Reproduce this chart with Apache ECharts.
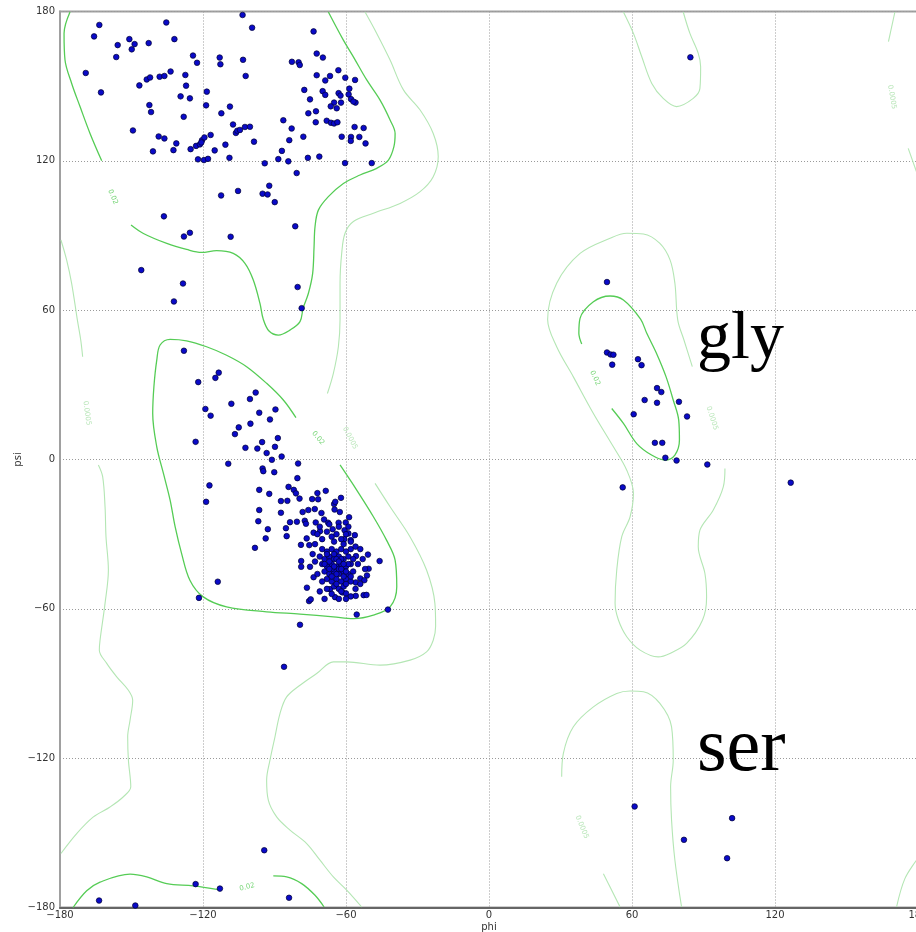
<!DOCTYPE html>
<html>
<head>
<meta charset="utf-8">
<title>Ramachandran plot</title>
<script src="https://cdn.jsdelivr.net/npm/echarts@6/dist/echarts.min.js"></script>
<style>
  html, body { margin: 0; padding: 0; background: #ffffff; }
  #chart { width: 916px; height: 932px; }
</style>
</head>
<body>
<div id="chart"></div>
<script>
// Axis ticks (degrees)
const phiTicks = [-180, -120, -60, 0, 60, 120, 180];
const psiTicks = [-180, -120, -60, 0, 60, 120, 180];

// Residue backbone angles [phi, psi] — beta-sheet region
const betaPoints = [
  [-163.5,174.6],[-165.7,170.0],[-169.2,155.3],[-162.8,147.5],[-155.8,166.5],[-156.4,161.7],
  [-150.9,168.9],[-149.9,164.8],[-148.7,166.9],[-142.8,167.3],[-135.4,175.6],[-132.0,168.9],
  [-146.7,150.3],[-143.6,152.7],[-142.2,153.5],[-138.2,153.8],[-136.2,154.1],[-133.6,155.9],
  [-127.4,154.5],[-127.1,150.2],[-129.4,145.9],[-125.5,145.1],[-124.2,162.3],[-122.5,159.4],
  [-142.5,142.4],[-141.8,139.6],[-128.1,137.7],[-149.4,132.2],[-138.6,129.8],[-136.2,129.0],
  [-131.2,127.0],[-141.0,123.8],[-132.4,124.3],[-125.2,124.7],[-122.9,126.0],[-121.3,126.6],
  [-120.4,128.3],[-119.4,129.4],[-120.7,127.4],[-122.1,120.6],[-119.6,120.3],[-117.9,120.8],
  [-116.8,130.4],[-118.7,142.3],[-118.4,147.8],[-115.1,124.2],[-113.0,161.5],[-112.7,158.8],
  [-112.3,139.1],[-110.6,126.5],[-108.7,141.8],[-108.9,121.2],[-107.4,134.6],[-106.2,131.2],
  [-105.6,132.1],[-104.5,132.4],[-102.4,133.6],[-100.3,133.7],[-103.4,178.6],[-99.4,173.5],
  [-103.2,160.6],[-102.1,154.1],[-98.6,127.7],[-94.1,119.0],[-92.2,110.0],[-95.0,106.8],
  [-92.9,106.5],[-89.9,103.4],[-112.4,106.1],[-105.3,107.9],[-136.4,97.7],[-128.0,89.6],
  [-125.5,91.1],[-108.4,89.5],[-145.9,76.1],[-128.4,70.7],[-132.2,63.5],[-81.3,93.7],
  [-80.3,69.3],[-78.6,60.8],[-86.3,136.3],[-82.8,133.0],[-83.8,128.3],[-86.9,124.0],
  [-88.4,120.7],[-84.2,119.8],[-80.7,115.1],[-82.7,159.8],[-79.9,159.6],[-79.4,158.5],
  [-73.6,172.0],[-72.3,163.1],[-69.7,161.5],[-77.5,148.5],[-75.1,144.7],[-72.3,154.4],
  [-68.7,152.3],[-66.7,154.1],[-63.2,156.4],[-60.3,153.4],[-56.2,152.5],[-58.6,149.0],
  [-58.9,146.7],[-57.9,144.8],[-56.0,143.4],[-56.9,143.8],[-69.8,148.0],[-68.7,146.5],
  [-63.1,147.2],[-62.3,146.2],[-65.0,143.4],[-66.4,141.9],[-63.9,141.1],[-62.1,143.4],
  [-75.8,139.1],[-72.6,139.9],[-72.7,135.5],[-68.1,136.1],[-66.3,135.3],[-65.0,135.0],
  [-63.6,135.5],[-77.9,129.7],[-76.0,121.2],[-71.2,121.7],[-61.8,129.7],[-57.9,129.6],
  [-58.0,128.0],[-54.4,129.6],[-56.4,133.6],[-52.6,133.2],[-51.8,127.0],[-60.4,119.1],
  [-49.2,119.1]
];

// Right-handed helix region, outer scatter
const alphaPoints = [
  [-128.0,43.7],[-122.0,31.1],[-114.8,32.8],[-113.4,34.9],[-119.0,20.3],[-116.8,17.6],
  [-123.1,7.1],[-108.1,22.4],[-100.3,24.3],[-97.9,26.9],[-96.4,18.8],[-89.6,20.1],
  [-91.9,16.1],[-100.1,14.4],[-105.0,12.9],[-106.6,10.2],[-102.2,4.7],[-97.2,4.4],
  [-95.2,7.0],[-88.6,8.6],[-89.8,5.1],[-93.3,2.6],[-91.1,-0.1],[-87.0,1.2],
  [-109.4,-1.7],[-80.1,-1.6],[-95.0,-3.6],[-94.7,-4.7],[-90.1,-5.1],[-80.4,-7.5],
  [-117.3,-10.4],[-118.7,-17.0],[-96.4,-12.2],[-92.2,-13.8],[-84.1,-11.0],[-81.9,-12.2],
  [-81.0,-13.6],[-79.5,-15.7],[-87.3,-16.7],[-84.6,-16.6],[-96.4,-20.3],[-96.8,-24.8],
  [-92.8,-28.0],[-93.7,-31.7],[-98.2,-35.5],[-87.3,-21.4],[-83.5,-25.2],[-85.2,-27.6],
  [-84.9,-30.8],[-80.6,-25.0],[-78.2,-21.1],[-75.8,-20.3],[-73.1,-19.9],[-74.2,-15.9],
  [-71.7,-16.0],[-72.0,-13.5],[-68.5,-12.6],[-70.3,-21.5],[-77.3,-24.6],[-76.8,-25.8],
  [-72.7,-25.3],[-69.2,-24.1],[-65.0,-17.9],[-64.5,-17.0],[-62.1,-15.4],[-64.8,-20.1],
  [-62.6,-21.1],[-58.7,-23.2],[-60.1,-25.3],[-63.1,-25.4],[-67.5,-25.4],[-73.6,-29.4],
  [-70.9,-28.8],[-65.6,-28.0],[-60.6,-28.4],[-59.0,-29.7],[-56.3,-30.4],[-58.0,-32.4],
  [-60.7,-32.0],[-76.5,-31.7],[-75.4,-34.4],[-78.9,-34.3],[-78.8,-40.8],[-78.8,-43.1],
  [-75.1,-43.1],[-73.6,-47.3],[-76.4,-51.5],[-75.5,-56.9],[-74.8,-56.2],[-66.7,-52.1],
  [-64.6,-55.3],[-61.5,-53.4],[-60.0,-53.8],[-55.9,-54.8],[-52.6,-54.5],[-51.4,-54.4],
  [-55.5,-62.3],[-42.4,-60.3],[-79.3,-66.4],[-113.8,-49.1],[-121.7,-55.6],[-50.8,-38.2],
  [-45.9,-40.8],[-50.5,-43.9],[-51.2,-46.6],[-55.8,-38.8],[-54.0,-47.8],[-55.9,-49.4],
  [-52.3,-48.5],[-86.0,-83.3]
];

// Right-handed helix region, dense core
const alphaCore = [
  [-70,-36],[-68,-37],[-66,-36],[-64,-37],[-62,-36],[-60,-37],[-58,-36],
  [-71,-39],[-69,-40],[-67,-39],[-65,-40],[-63,-39],[-61,-40],[-59,-39],[-57,-40],
  [-70,-42],[-68,-43],[-66,-42],[-64,-43],[-62,-42],[-60,-43],[-58,-42],
  [-69,-45],[-67,-46],[-65,-45],[-63,-46],[-61,-45],[-59,-46],[-57,-45],
  [-68,-48],[-66,-49],[-64,-48],[-62,-49],[-60,-48],[-58,-49],
  [-65,-51],[-63,-52],[-61,-51],
  [-67,-41],[-65,-38],[-63,-44],[-61,-47],[-66,-44],[-62,-40],[-64,-46],[-60,-45],
  [-68,-38],[-59,-42],[-66,-47],[-64,-40],[-62,-44],[-65,-43],[-63,-41],[-61,-42],
  [-67,-44],[-69,-42],[-58,-47],[-60,-50],[-62,-53],[-64,-50],
  [-72,-30],[-70,-32],[-68,-29],[-66,-31],[-64,-30],[-62,-32],[-60,-30],[-58,-33],
  [-73,-34],[-71,-27],[-67,-26],[-65,-33],[-63,-27],[-61,-34],[-59,-27],[-56,-35],
  [-54,-36],[-53,-40],[-55,-42],[-52,-44],[-54,-50],[-56,-52],[-58,-55],[-66,-54],
  [-68,-52],[-70,-49],[-72,-46],[-73,-41],[-74,-38],[-71,-53],[-69,-56],[-63,-56],
  [-60,-56]
];

// Left-handed region and remaining residues
const leftPoints = [
  [84.5,161.6],[49.5,71.3],[49.5,43.0],[51.0,42.2],[52.2,42.1],[51.7,38.1],[62.5,40.3],
  [64.0,37.9],[70.5,28.7],[72.3,27.1],[65.3,23.9],[70.5,22.8],[79.7,23.2],[83.1,17.3],
  [60.7,18.2],[69.6,6.7],[72.7,6.7],[74.0,0.7],[78.7,-0.4],[91.6,-2.0],[56.1,-11.2],
  [126.6,-9.3],[61.1,-139.4],[102.0,-144.1],[81.8,-152.8],[99.9,-160.2]
];
const edgePoints = [
  [-94.3,-157.0],[-123.1,-170.6],[-112.9,-172.4],[-83.9,-176.1],[-163.6,-177.2],[-148.4,-179.2]
];

// Density contour, level 0.02
const c02BetaLeft = [[-175.8,179.8],[-178.3,171.2],[-177.9,160.5],[-175.1,151.1],[-171.6,141.8],[-167.4,131.0],[-162.5,120.0]];
const c02BetaMain = [
  [-150.2,94.2],[-145.0,90.8],[-135.2,86.8],[-126.9,84.4],[-120.6,83.2],[-114.3,83.9],[-107.3,82.8],
  [-102.4,78.8],[-98.9,72.1],[-96.1,62.7],[-94.7,56.3],[-92.3,51.6],[-88.4,50.0],[-83.5,52.0],
  [-79.3,55.4],[-78.0,60.8],[-75.8,66.7],[-74.0,74.7],[-73.4,85.5],[-73.0,93.5],[-71.6,100.2],
  [-67.4,105.6],[-61.1,110.9],[-54.1,114.3],[-47.1,117.0],[-42.2,120.3],[-39.9,125.7],[-39.4,131.0],
  [-41.5,136.4],[-45.7,144.4],[-51.3,152.5],[-56.9,161.8],[-61.1,168.5],[-67.4,179.8]
];
const c02BetaBottomA = [[-174.5,-180],[-168.8,-173.3],[-163.2,-169.8],[-150.6,-166.6],[-143.6,-167.7],[-135.2,-170.4],[-124.1,-171.3],[-113.6,-172.8]];
const c02BetaBottomB = [[-90.5,-167.3],[-84.9,-167.7],[-78.6,-170.4],[-73.0,-175.1],[-69.2,-179.8]];
const c02Alpha = [
  [-62.5,-2.2],[-55.5,-12.3],[-48.5,-23.0],[-43.0,-32.4],[-39.4,-40.4],[-38.7,-51.1],[-41.5,-59.2],
  [-48.5,-62.5],[-56.9,-63.9],[-65.3,-63.2],[-79.3,-62.1],[-93.3,-61.2],[-110.1,-59.2],[-119.9,-55.2],
  [-125.5,-48.5],[-129.0,-37.7],[-131.7,-27.0],[-133.8,-16.3],[-136.6,-5.6],[-139.4,5.1],[-141.1,18.5],
  [-140.6,29.2],[-139.4,39.9],[-138.0,46.0],[-133.8,48.3],[-126.9,47.7],[-118.5,45.3],[-110.1,41.9],
  [-101.7,37.3],[-93.3,30.6],[-86.3,23.9],[-81.0,16.8]
];
const c02Gly = [
  [51.5,20.5],[56.4,14.5],[62.0,6.4],[68.2,1.8],[73.8,-0.2],[78.0,1.8],[79.9,7.8],[79.6,15.8],
  [77.3,23.9],[74.3,33.2],[70.3,42.6],[66.2,50.7],[63.6,56.4],[56.4,64.1],[50.8,65.7],[43.8,63.4],
  [38.2,56.7],[37.7,50.7],[38.9,46.4]
];

// Density contour, level 0.0005
const c0005OuterTop = [
  [-52.0,179.8],[-47.1,171.2],[-41.5,160.5],[-35.9,148.5],[-28.9,140.4],[-23.4,131.0],[-21.3,121.7],
  [-23.4,113.6],[-28.9,107.6],[-37.3,102.9],[-48.5,98.9],[-56.9,95.6],[-60.4,90.9],[-61.8,82.9],
  [-62.5,70.8],[-62.5,56.1],[-63.2,45.3],[-65.3,34.6],[-67.8,26.5]
];
const c0005OuterLow = [
  [-47.8,-9.6],[-41.5,-19.0],[-33.1,-31.1],[-26.2,-44.4],[-22.7,-57.8],[-22.4,-67.0],[-23.4,-72.6],
  [-26.2,-77.3],[-33.1,-80.6],[-45.7,-82.6],[-59.7,-81.3],[-65.3,-81.3],[-72.3,-86.0],[-79.3,-90.7],
  [-84.9,-95.4],[-87.7,-102.1],[-89.8,-111.4],[-91.9,-120.8],[-93.3,-128.8],[-92.6,-136.9],[-89.1,-143.6],
  [-83.5,-148.9],[-76.5,-154.3],[-70.9,-161.0],[-65.3,-167.7],[-59.7,-173.0],[-53.4,-179.8]
];
const c0005LeftTop = [[-179.6,88.2],[-177.2,80.1],[-175.1,70.7],[-172.7,56.0],[-171.3,48.0],[-170.5,41.3]];
const c0005LeftLow = [
  [-163.9,-2.2],[-162.1,-6.9],[-161.1,-19.0],[-160.7,-31.0],[-159.7,-44.4],[-161.1,-57.8],[-163.2,-72.6],
  [-163.5,-76.6],[-160.4,-81.9],[-156.2,-87.3],[-151.3,-92.7],[-149.5,-96.7],[-150.6,-104.7],[-151.6,-111.4],
  [-151.3,-120.8],[-150.3,-131.5],[-153.4,-135.5],[-159.0,-139.6],[-166.0,-143.6],[-173.0,-150.3],[-179.6,-158.3]
];
const c0005RightA = [[170.3,179.8],[167.6,167.9]];
const c0005RightB = [[175.9,125.0],[179.6,115.0]];
const c0005RightC = [[171.0,-179.8],[174.5,-168.4],[179.6,-160.7]];
const c0005Gly = [
  [99.0,-3.6],[98.3,-11.0],[94.1,-20.3],[88.5,-28.4],[87.8,-35.1],[90.6,-45.8],[91.3,-55.2],[89.6,-64.5],
  [82.9,-73.9],[75.9,-77.9],[71.0,-79.3],[63.4,-76.6],[57.8,-71.2],[54.3,-64.5],[52.9,-57.8],[53.6,-44.4],
  [55.7,-31.0],[59.2,-23.0],[60.6,-13.6],[57.8,-4.3],[52.2,5.1],[43.8,18.5],[35.4,33.2],[28.4,45.3],
  [24.6,56.3],[28.4,70.8],[38.2,82.8],[50.8,88.9],[57.8,90.9],[64.8,90.6],[71.7,86.8],[76.0,80.1],
  [78.0,70.8],[79.2,56.0],[81.8,48.0],[85.3,37.3]
];
const c0005SerTop = [
  [56.4,179.8],[60.6,171.2],[64.1,161.8],[68.3,151.1],[73.1,145.1],[78.7,141.8],[85.7,145.1],
  [88.5,149.1],[88.8,157.8],[87.8,163.2],[84.3,171.2],[81.5,179.8]
];
const c0005SerLow = [
  [30.5,-127.5],[31.2,-118.1],[35.4,-107.4],[43.8,-99.4],[53.6,-94.0],[59.2,-93.0],[64.8,-93.3],
  [71.7,-98.0],[76.6,-107.4],[77.3,-120.8],[76.2,-131.5],[76.6,-144.9],[78.0,-161.0],[80.8,-179.8]
];
const c0005SerTail = [[48.0,-166.4],[55.0,-179.8]];

// Contour level labels [phi, psi, text, angle]
const contourLabels = [
  [-157.8,105.5,'0.02',-66],[-71.7,8.6,'0.02',-50],[44.5,32.7,'0.02',-65],[-101.5,-171.8,'0.02',14],
  [-168.7,18.6,'0.0005',-82],[-58.3,8.6,'0.0005',-62],[93.6,16.6,'0.0005',-72],
  [39.0,-147.7,'0.0005',-67],[169.1,145.6,'0.0005',-80]
];

const strongLines = [c02BetaLeft, c02BetaMain, c02BetaBottomA, c02BetaBottomB, c02Alpha, c02Gly];
const weakLines = [c0005OuterTop, c0005OuterLow, c0005LeftTop, c0005LeftLow, c0005RightA,
  c0005RightB, c0005RightC, c0005Gly, c0005SerTop, c0005SerLow, c0005SerTail];

const minusFmt = v => String(v).replace('-', '\u2212');

const series = [];
weakLines.forEach(d => series.push({
  type: 'line', data: d, showSymbol: false, smooth: 0.35, silent: true, z: 1,
  lineStyle: { color: '#b4e6b4', width: 1.1 }
}));
strongLines.forEach(d => series.push({
  type: 'line', data: d, showSymbol: false, smooth: 0.35, silent: true, z: 2,
  lineStyle: { color: '#55cc55', width: 1.3 }
}));
series.push({
  type: 'scatter', silent: true, z: 3, symbolSize: 0,
  data: contourLabels.map(l => ({
    value: [l[0], l[1]], name: l[2],
    label: { rotate: l[3], color: l[2] === '0.02' ? '#55cc55' : '#a8e0a8' }
  })),
  label: { show: true, position: 'inside', formatter: p => p.name, fontSize: 7, fontFamily: 'DejaVu Sans' }
});
series.push({
  type: 'scatter', silent: true, z: 5, symbol: 'circle', symbolSize: 5.6,
  data: [].concat(betaPoints, alphaPoints, alphaCore, leftPoints, edgePoints),
  itemStyle: { color: '#0a0ac8', borderColor: '#000030', borderWidth: 0.7, opacity: 1 }
});

const axisCommon = {
  type: 'value', min: -180, max: 180, interval: 60,
  axisTick: { show: false },
  axisLabel: { formatter: minusFmt, fontSize: 10, color: '#333', fontFamily: 'DejaVu Sans', showMinLabel: true, showMaxLabel: true },
  splitLine: { show: true, lineStyle: { color: '#9a9a9a', type: [1, 2], width: 1 } },
  nameLocation: 'middle',
  nameMoveOverlap: false,
  nameTextStyle: { fontSize: 10, color: '#333', fontFamily: 'DejaVu Sans' }
};

const chart = echarts.init(document.getElementById('chart'), null, { renderer: 'canvas' });
chart.setOption({
  animation: false,
  backgroundColor: '#ffffff',
  grid: {
    left: 60, top: 11.5, width: 858, height: 896,
    outerBoundsMode: 'none', containLabel: false,
    show: true, borderColor: '#a0a0a0', borderWidth: 2
  },
  xAxis: Object.assign({}, axisCommon, {
    name: 'phi', nameGap: 15,
    axisLine: { show: true, onZero: false, lineStyle: { color: '#666', width: 2 } },
    axisLabel: Object.assign({}, axisCommon.axisLabel, { margin: 3 })
  }),
  yAxis: Object.assign({}, axisCommon, {
    name: 'psi', nameGap: 37,
    axisLine: { show: true, onZero: false, lineStyle: { color: '#a0a0a0', width: 2 } },
    axisLabel: Object.assign({}, axisCommon.axisLabel, { margin: 5 })
  }),
  series: series,
  graphic: [
    { type: 'text', left: 697, top: 306, z: 10, style: { text: 'gly', font: '68px "Liberation Serif"', fill: '#000' } },
    { type: 'text', left: 697, top: 712, z: 10, style: { text: 'ser', font: '76px "Liberation Serif"', fill: '#000' } }
  ]
});
</script>
</body>
</html>
